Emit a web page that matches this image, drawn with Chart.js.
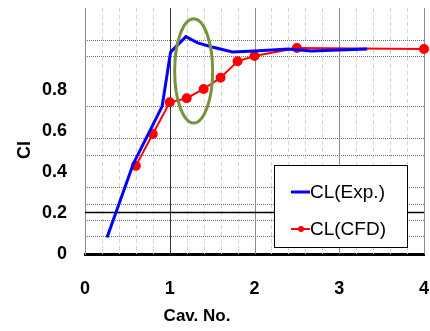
<!DOCTYPE html>
<html>
<head>
<meta charset="utf-8">
<script src="https://cdn.jsdelivr.net/npm/chart.js@4.4.1/dist/chart.umd.min.js"></script>
<style>
  html, body { margin: 0; padding: 0; background: #ffffff; }
  #wrap { width: 430px; height: 331px; position: relative; }
</style>
</head>
<body>
<div id="wrap"><canvas id="c"></canvas></div>
<script>
// ---- data ----
const expLabel = "CL(Exp.)";
const expX = [0.26, 0.57, 0.91, 1.01, 1.19, 1.33, 1.5, 1.74, 2.0, 2.4, 2.67, 3.33];
const expY = [0.08, 0.44, 0.72, 0.985, 1.06, 1.03, 1.01, 0.985, 0.99, 1.0, 0.99, 1.0];

const cfdLabel = "CL(CFD)";
const cfdX = [0.6, 0.8, 1.0, 1.2, 1.4, 1.6, 1.8, 2.0, 2.5, 4.0];
const cfdY = [0.43, 0.585, 0.74, 0.76, 0.805, 0.86, 0.94, 0.966, 1.005, 1.0];

const xTickValues = [0, 1, 2, 3, 4];
const yTickValues = [0, 0.2, 0.4, 0.6, 0.8];
const minorXGrid = [0.2, 0.4, 0.6, 0.8, 1.2, 1.4, 1.6, 1.8, 2.2, 2.4, 2.6, 2.8, 3.2, 3.4, 3.6, 3.8];
const dottedYGrid = [0.088, 0.166, 0.242, 0.325, 0.481, 0.564, 0.723, 0.966, 1.042];
const solidYGrid = [0.203];
const xTitle = "Cav. No.";
const yTitle = "Cl";
// highlighted region (data units)
const ellipseCenter = [1.282, 0.893];
const ellipseRadii = [0.224, 0.254];

const toPts = (xs, ys) => xs.map((x, i) => ({ x: x, y: ys[i] }));
const zeroPad = s => { s.paddingLeft = 0; s.paddingRight = 0; s.paddingTop = 0; s.paddingBottom = 0; };

const gridPlugin = {
  id: 'customGrid',
  beforeDatasetsDraw(chart) {
    const { ctx, chartArea: a, scales: { x, y } } = chart;
    ctx.save();
    ctx.lineWidth = 1;
    // minor vertical dashed
    ctx.strokeStyle = '#d4d4d4';
    ctx.setLineDash([4, 3]);
    minorXGrid.forEach(v => {
      const px = Math.round(x.getPixelForValue(v)) + 0.5;
      ctx.beginPath(); ctx.moveTo(px, a.top); ctx.lineTo(px, a.bottom); ctx.stroke();
    });
    // horizontal dotted
    ctx.strokeStyle = '#6e6e6e';
    ctx.setLineDash([1, 1]);
    dottedYGrid.forEach(v => {
      const py = Math.round(y.getPixelForValue(v)) + 0.5;
      ctx.beginPath(); ctx.moveTo(a.left, py); ctx.lineTo(a.right, py); ctx.stroke();
    });
    ctx.setLineDash([]);
    // major verticals
    xTickValues.forEach(v => {
      if (v === 0) return;
      const px = Math.round(x.getPixelForValue(v)) + 0.5;
      ctx.strokeStyle = v === 1 ? '#333333' : '#8c8c8c';
      ctx.beginPath(); ctx.moveTo(px, a.top); ctx.lineTo(px, a.bottom); ctx.stroke();
    });
    // solid black horizontal
    ctx.strokeStyle = '#000000';
    ctx.lineWidth = 1.5;
    solidYGrid.forEach(v => {
      const py = y.getPixelForValue(v);
      ctx.beginPath(); ctx.moveTo(a.left, py); ctx.lineTo(a.right, py); ctx.stroke();
    });
    ctx.restore();
  },
  afterDatasetsDraw(chart) {
    const { ctx, scales: { x, y } } = chart;
    const cx = x.getPixelForValue(ellipseCenter[0]);
    const cy = y.getPixelForValue(ellipseCenter[1]);
    const rx = Math.abs(x.getPixelForValue(ellipseCenter[0] + ellipseRadii[0]) - cx);
    const ry = Math.abs(y.getPixelForValue(ellipseCenter[1] + ellipseRadii[1]) - cy);
    ctx.save();
    ctx.strokeStyle = '#77933C';
    ctx.lineWidth = 3;
    ctx.beginPath();
    ctx.ellipse(cx, cy, rx, ry, 0, 0, Math.PI * 2);
    ctx.stroke();
    ctx.restore();
  },
  afterDraw(chart) {
    const { ctx, chartArea: a } = chart;
    ctx.save();
    // legend box
    const bx = a.right - 150, by = a.bottom - 89, bw = 133, bh = 82;
    ctx.fillStyle = '#ffffff';
    ctx.fillRect(bx, by, bw, bh);
    ctx.strokeStyle = '#000000';
    ctx.lineWidth = 1;
    ctx.strokeRect(Math.round(bx) + 0.5, Math.round(by) + 0.5, bw, bh);
    const ds = chart.data.datasets;
    const rows = [by + 27, by + 64];
    ctx.font = '19px "Liberation Sans", Arial, sans-serif';
    ctx.textBaseline = 'middle';
    ctx.textAlign = 'left';
    ds.forEach((d, i) => {
      const ry = rows[i];
      ctx.strokeStyle = d.borderColor;
      ctx.lineWidth = i === 0 ? 3 : 2;
      ctx.beginPath(); ctx.moveTo(bx + 17, ry); ctx.lineTo(bx + 36, ry); ctx.stroke();
      if (i === 1) {
        ctx.fillStyle = d.borderColor;
        ctx.beginPath(); ctx.arc(bx + 27, ry, 3, 0, Math.PI * 2); ctx.fill();
      }
      ctx.fillStyle = '#000000';
      ctx.fillText(d.label, bx + 36, ry + 1);
    });
    // axis titles
    ctx.fillStyle = '#000000';
    ctx.font = 'bold 17px "Liberation Sans", Arial, sans-serif';
    ctx.textAlign = 'center';
    ctx.textBaseline = 'middle';
    ctx.fillText(xTitle, 197, 316);
    ctx.translate(25, 150);
    ctx.rotate(-Math.PI / 2);
    ctx.font = 'bold 18px "Liberation Sans", Arial, sans-serif';
    ctx.fillText(yTitle, 0, 0);
    ctx.restore();
  }
};

new Chart(document.getElementById('c'), {
  type: 'line',
  data: {
    datasets: [
      {
        label: expLabel,
        data: toPts(expX, expY),
        borderColor: '#0000ff',
        backgroundColor: '#0000ff',
        borderWidth: 3,
        pointRadius: 0,
        tension: 0,
        fill: false
      },
      {
        label: cfdLabel,
        data: toPts(cfdX, cfdY),
        borderColor: '#ff0000',
        backgroundColor: '#ff0000',
        pointBackgroundColor: '#ff0000',
        pointBorderColor: '#ff0000',
        borderWidth: 2,
        pointRadius: 4,
        tension: 0,
        fill: false,
        clip: false
      }
    ]
  },
  options: {
    responsive: true,
    maintainAspectRatio: false,
    animation: false,
    layout: { padding: { top: 8, right: 5, left: 0, bottom: 0 } },
    plugins: { legend: { display: false }, tooltip: { enabled: false } },
    scales: {
      x: {
        type: 'linear',
        min: 0, max: 4,
        afterBuildTicks: s => { s.ticks = xTickValues.map(v => ({ value: v })); },
        afterFit: s => { s.height = 77; zeroPad(s); },
        grid: { display: false, drawTicks: false },
        border: { display: true, color: '#000000', width: 3 },
        ticks: {
          color: '#000000',
          padding: 24,
          maxRotation: 0,
          font: { family: '"Liberation Sans", Arial, sans-serif', size: 18, weight: 'bold' },
          callback: v => String(v)
        }
      },
      y: {
        type: 'linear',
        min: 0, max: 1.2,
        afterBuildTicks: s => { s.ticks = yTickValues.map(v => ({ value: v })); },
        afterFit: s => { s.width = 85; zeroPad(s); },
        grid: { display: false, drawTicks: false },
        border: { display: true, color: '#8c8c8c', width: 1 },
        ticks: {
          color: '#000000',
          padding: 18,
          font: { family: '"Liberation Sans", Arial, sans-serif', size: 18, weight: 'bold' },
          callback: v => (v === 0 ? '0' : v.toFixed(1))
        }
      }
    }
  },
  plugins: [gridPlugin]
});
</script>
</body>
</html>
